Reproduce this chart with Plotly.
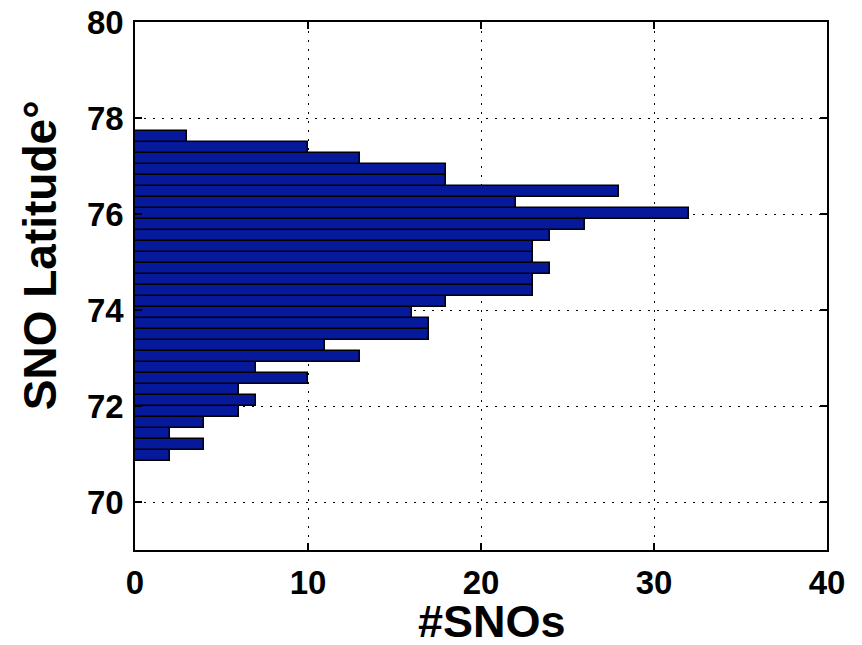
import plotly.graph_objects as go

# Histogram bin centres (latitude, degrees) from south to north
lat_centers = [70.968, 71.197, 71.426, 71.655, 71.883, 72.112, 72.341, 72.570,
               72.799, 73.028, 73.256, 73.485, 73.714, 73.943, 74.172, 74.401,
               74.630, 74.858, 75.087, 75.316, 75.545, 75.774, 76.003, 76.231,
               76.460, 76.689, 76.918, 77.147, 77.376, 77.605]
# Counts per bin (#SNOs), same order
counts = [2, 4, 2, 4, 6, 7, 6, 10, 7, 13, 11, 17, 17, 16, 18, 23, 23, 24,
          23, 23, 24, 26, 32, 22, 28, 18, 18, 13, 10, 3]
bin_width = 0.2288

x_ticks = [0, 10, 20, 30, 40]
y_ticks = [70, 72, 74, 76, 78, 80]

fig = go.Figure()
fig.add_trace(go.Bar(
    y=lat_centers, x=counts, orientation="h", width=bin_width,
    marker=dict(color="#06199a", line=dict(color="black", width=1.5)),
))

font_family = "Liberation Sans, Arial, Helvetica, sans-serif"
axis_common = dict(
    showline=True, linecolor="black", linewidth=1.5, mirror="ticks",
    ticks="inside", ticklen=7, tickwidth=1.5, tickcolor="black",
    showgrid=True, gridcolor="black", gridwidth=1.2, griddash="1.5px,7.5px",
    zeroline=False, automargin=False, ticklabeloverflow="allow",
    tickfont=dict(family=font_family, size=33, color="black", weight="bold"),
)

# page body has an 8px margin, so the figure is offset by (8, 8)
fig.update_layout(
    width=854, height=637,
    margin=dict(l=127, r=35, t=14, b=95),
    paper_bgcolor="white", plot_bgcolor="white",
    showlegend=False, bargap=0,
    font=dict(family=font_family, color="black"),
    xaxis=dict(range=[0, 40], tickvals=x_ticks, ticklabelstandoff=3, **axis_common),
    yaxis=dict(range=[69, 80], tickvals=y_ticks, ticklabelstandoff=3, **axis_common),
    annotations=[
        dict(text="<b>#SNOs</b>", xref="paper", yref="paper", x=0.516, y=-0.1345,
             xanchor="center", yanchor="middle", showarrow=False,
             font=dict(family=font_family, size=45, color="black")),
        dict(text="<b>SNO Latitude°</b>", xref="paper", yref="paper", x=-0.137, y=0.5587,
             xanchor="center", yanchor="middle", showarrow=False, textangle=-90,
             font=dict(family=font_family, size=46, color="black")),
    ],
)

fig.write_html("out.html")
